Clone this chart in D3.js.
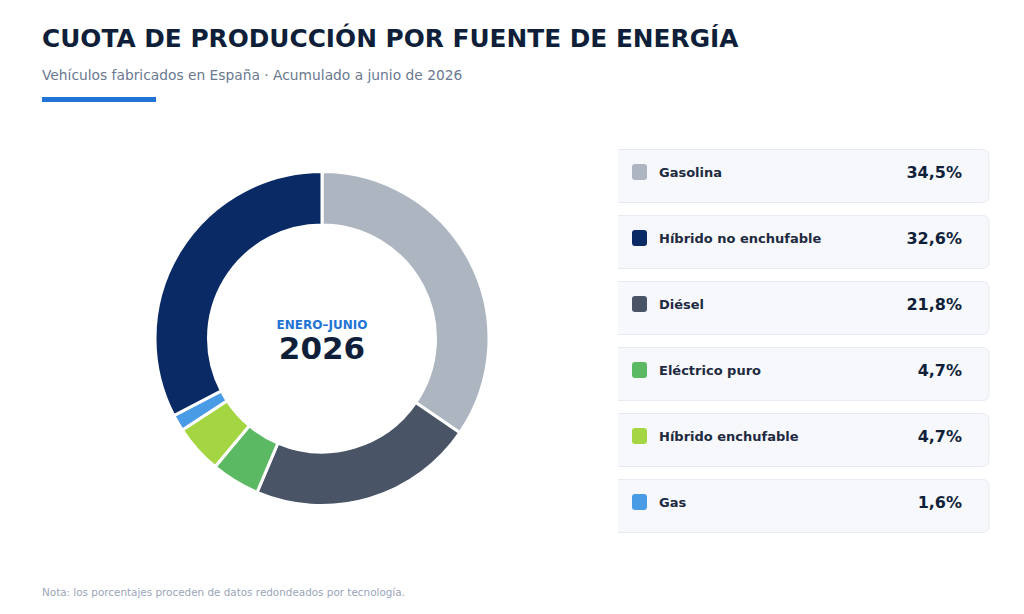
<!DOCTYPE html>
<html><head><meta charset="utf-8">
<script src="https://cdn.jsdelivr.net/npm/d3@7/dist/d3.min.js"></script>
<style>
html,body{margin:0;padding:0;background:#fff;}
svg{display:block;font-family:"DejaVu Sans",sans-serif;}
</style></head>
<body><svg id="c" width="1024" height="614"></svg>
<script>
const categories = ["Gasolina","Diésel","Eléctrico puro","Híbrido enchufable","Gas","Híbrido no enchufable"];
const values = [34.5,21.8,4.7,4.7,1.6,32.6];
const colors = ["#adb5c1","#4a5467","#5cb963","#a4d643","#4a9be6","#0a2a66"];
const legendOrder = ["Gasolina","Híbrido no enchufable","Diésel","Eléctrico puro","Híbrido enchufable","Gas"];

const svg = d3.select("#c");
svg.append("text").attr("x",42).attr("y",46.5).attr("font-size",24.8).attr("font-weight","bold")
  .attr("fill","#0f1f3a").text("CUOTA DE PRODUCCIÓN POR FUENTE DE ENERGÍA");
svg.append("text").attr("x",42).attr("y",80).attr("font-size",13.8)
  .attr("fill","#6b7890").text("Vehículos fabricados en España · Acumulado a junio de 2026");
svg.append("rect").attr("x",42).attr("y",97).attr("width",114).attr("height",5).attr("fill","#1f74d6");

const cx = 322, cy = 338.5;
const color = d3.scaleOrdinal().domain(categories).range(colors);
const pie = d3.pie().sort(null).value(d=>d.v);
const data = categories.map((c,i)=>({c, v: values[i]}));
const arc = d3.arc().innerRadius(113.5).outerRadius(167);
const g = svg.append("g").attr("transform",`translate(${cx},${cy})`);
g.selectAll("path").data(pie(data)).join("path")
  .attr("d",arc).attr("fill",d=>color(d.data.c))
  .attr("stroke","#fff").attr("stroke-width",3).attr("stroke-linejoin","miter");
g.append("text").attr("text-anchor","middle").attr("y",-10).attr("font-size",12).attr("font-weight","bold")
  .attr("fill","#1f74d6").text("ENERO–JUNIO");
g.append("text").attr("text-anchor","middle").attr("y",20).attr("font-size",31).attr("font-weight","bold")
  .attr("fill","#0f1f3a").text("2026");

const y = d3.scaleBand().domain(legendOrder).range([149, 149+66*6]).paddingInner(0);
const defs = svg.append("defs");
defs.append("clipPath").attr("id","lc").append("rect").attr("x",618).attr("y",0).attr("width",400).attr("height",614);
const leg = svg.append("g");
legendOrder.forEach(name=>{
  const i = categories.indexOf(name);
  const y0 = y(name);
  const row = leg.append("g");
  row.append("rect").attr("clip-path","url(#lc)").attr("x",610).attr("y",y0+0.5).attr("width",379).attr("height",53)
    .attr("rx",6).attr("fill","#f7f8fc").attr("stroke","#e6eaf1").attr("stroke-width",1);
  row.append("rect").attr("x",632).attr("y",y0+15).attr("width",15).attr("height",16).attr("rx",3)
    .attr("fill",color(name));
  row.append("text").attr("x",659).attr("y",y0+27.5).attr("font-size",13).attr("font-weight","bold")
    .attr("fill","#1e2a40").text(name);
  row.append("text").attr("x",962).attr("y",y0+28.5).attr("text-anchor","end").attr("font-size",16).attr("font-weight","bold")
    .attr("fill","#0f1f3a").text(values[i].toFixed(1).replace(".",",")+"%");
});

svg.append("text").attr("x",42).attr("y",596).attr("font-size",10.4)
  .attr("fill","#9aa5b8").text("Nota: los porcentajes proceden de datos redondeados por tecnología.");
</script></body></html>
